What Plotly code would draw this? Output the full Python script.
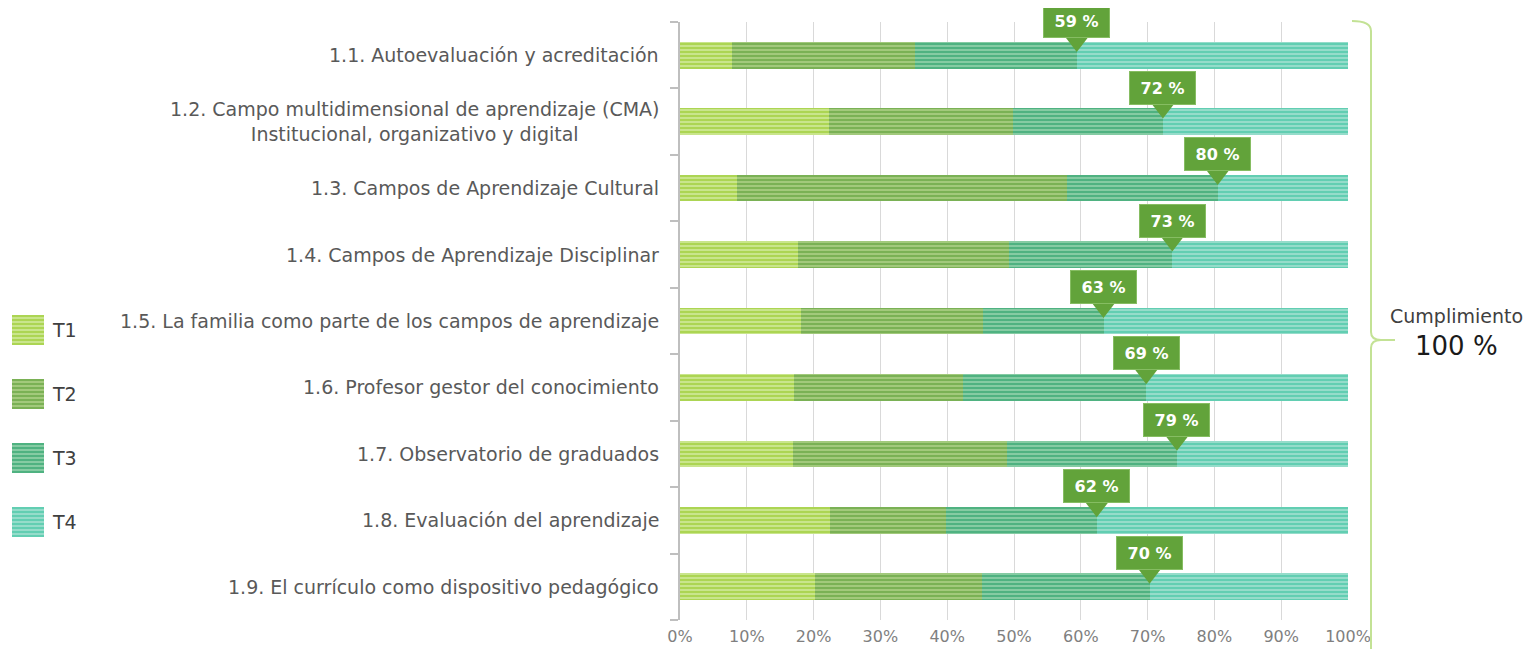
import plotly.graph_objects as go

# ---------------- data ----------------
categories = [
    "1.1. Autoevaluación y acreditación",
    "1.2. Campo multidimensional de aprendizaje (CMA)<br>Institucional, organizativo y digital",
    "1.3. Campos de Aprendizaje Cultural",
    "1.4. Campos de Aprendizaje Disciplinar",
    "1.5. La familia como parte de los campos de aprendizaje",
    "1.6. Profesor gestor del conocimiento",
    "1.7. Observatorio de graduados",
    "1.8. Evaluación del aprendizaje",
    "1.9. El currículo como dispositivo pedagógico",
]
series_names = ["T1", "T2", "T3", "T4"]
t1 = [7.8, 22.3, 8.6, 17.7, 18.1, 17.1, 16.9, 22.4, 20.2]
t2 = [27.4, 27.6, 49.3, 31.6, 27.2, 25.3, 32.0, 17.4, 25.0]
t3 = [24.2, 22.4, 22.6, 24.4, 18.1, 27.4, 25.5, 22.6, 25.1]
t4 = [40.6, 27.7, 19.5, 26.3, 36.6, 30.2, 25.6, 37.6, 29.7]
cumplimiento_labels = [59, 72, 80, 73, 63, 69, 79, 62, 70]
x_ticks = [0, 10, 20, 30, 40, 50, 60, 70, 80, 90, 100]
x_tick_labels = [f"{v}%" for v in x_ticks]
total_label = "100 %"
total_title = "Cumplimiento"

# ---------------- style ----------------
PAGE_W, PAGE_H = 1532, 657
OFF = 8                      # default body margin of the html page
W, H = PAGE_W - 2 * OFF, PAGE_H - 2 * OFF
FONT = "DejaVu Sans"
bg_cols = ["#c9e58c", "#a2c97c", "#85cba3", "#95dcca"]
fg_cols = ["#9fcf3a", "#68a744", "#38a873", "#4cc9a8"]
callout_col = "#62a33a"
PL, PR, PT, PB = 680, 1348, 22, 620  # plot area in page pixels


def px_x(p):
    return (p - OFF) / W


def px_y(p):
    return (H - (p - OFF)) / H


fig = go.Figure()
series = [t1, t2, t3, t4]
ypos = list(range(len(categories)))

for name, vals, bgc, fgc in zip(series_names, series, bg_cols, fg_cols):
    fig.add_trace(go.Bar(
        name=name, x=vals, y=ypos, orientation="h", width=0.4,
        marker=dict(color=bgc, line=dict(width=0),
                    pattern=dict(shape="-", fgcolor=fgc, bgcolor=bgc,
                                 size=4, solidity=0.35)),
        showlegend=False, hoverinfo="x+name",
        xaxis="x", yaxis="y",
    ))

# cumulative position of callouts (end of T3)
cum3 = [a + b + c for a, b, c in zip(t1, t2, t3)]
fig.add_trace(go.Scatter(
    x=cum3, y=[y - 0.19 for y in ypos], mode="markers",
    marker=dict(symbol="triangle-down", size=19, color=callout_col,
                line=dict(width=0)),
    showlegend=False, hoverinfo="skip", cliponaxis=False,
    xaxis="x", yaxis="y",
))

annotations = []
for y, xv, lab in zip(ypos, cum3, cumplimiento_labels):
    annotations.append(dict(
        x=xv, y=y, xref="x", yref="y", yshift=34, showarrow=False,
        xanchor="center",
        text=f"<b>{lab} %</b>", font=dict(family=FONT, size=16, color="white"),
        bgcolor=callout_col, bordercolor="#86bd62", borderwidth=1,
        width=61, height=28, borderpad=2,
    ))

for y, cat in zip(ypos, categories):
    annotations.append(dict(
        x=px_x(PL), y=y, xref="paper", yref="y", xshift=-19,
        xanchor="right", yanchor="middle", align="center", showarrow=False,
        text=cat, font=dict(family=FONT, size=19, color="#595959"),
    ))

annotations.append(dict(
    x=px_x(1456), y=px_y(316), xref="paper", yref="paper", showarrow=False,
    xanchor="center", yanchor="middle",
    text=total_title, font=dict(family=FONT, size=19, color="#404040"),
))
annotations.append(dict(
    x=px_x(1456), y=px_y(346), xref="paper", yref="paper", showarrow=False,
    xanchor="center", yanchor="middle",
    text=total_label, font=dict(family=FONT, size=26, color="#1a1a1a"),
))

# legend swatches drawn in their own small subplot
legend_len = [1] * len(series_names)
leg_pos = list(range(len(series_names)))
for k, (name, bgc, fgc) in enumerate(zip(series_names, bg_cols, fg_cols)):
    fig.add_trace(go.Bar(
        x=[legend_len[k]], y=[leg_pos[k]], orientation="h", width=0.47,
        marker=dict(color=bgc, line=dict(width=0),
                    pattern=dict(shape="-", fgcolor=fgc, bgcolor=bgc,
                                 size=4, solidity=0.35)),
        showlegend=False, hoverinfo="skip", xaxis="x2", yaxis="y2",
    ))

# bracket
def P(x, y):
    return f"{px_x(x):.5f},{px_y(y):.5f}"

bracket = (f"M{P(1352,21)} Q{P(1371,21)} {P(1371,31)} L{P(1371,332)} "
           f"Q{P(1371,340)} {P(1381,340)} L{P(1395,340)} "
           f"M{P(1381,340)} Q{P(1371,340)} {P(1371,348)} L{P(1371,660)}")
shapes = [dict(type="path", xref="paper", yref="paper", path=bracket,
               line=dict(color="#c3e295", width=2))]

fig.update_layout(
    template="none",
    width=W, height=H,
    margin=dict(l=0, r=0, t=0, b=0, pad=0, autoexpand=False),
    paper_bgcolor="white", plot_bgcolor="white",
    barmode="stack", bargap=0.6, showlegend=False,
    font=dict(family=FONT),
    xaxis=dict(domain=[px_x(PL), px_x(PR)], range=[0, 100],
               tickvals=x_ticks, ticktext=x_tick_labels,
               tickfont=dict(family=FONT, size=16, color="#7f7f7f"),
               showgrid=True, gridcolor="#d9d9d9", gridwidth=1,
               zeroline=False, showline=False, ticks="", anchor="y",
               ticklabelstandoff=5, automargin=False),
    yaxis=dict(domain=[px_y(PB), px_y(PT)], range=[8.5, -0.5],
               tickmode="array", tickvals=[v - 0.5 for v in range(10)],
               ticktext=[""] * 10, ticks="outside", ticklen=8,
               tickcolor="#bfbfbf", tickwidth=1.5,
               showline=True, linecolor="#bfbfbf", linewidth=1.5,
               showgrid=False, zeroline=False, anchor="x", automargin=False),
    xaxis2=dict(domain=[px_x(12), px_x(44)], range=[0, 1], visible=False,
                anchor="y2", automargin=False),
    yaxis2=dict(domain=[px_y(554), px_y(298)], range=[3.5, -0.5],
                tickvals=leg_pos, ticktext=series_names, side="right",
                tickfont=dict(family=FONT, size=19, color="#404040"),
                showgrid=False, zeroline=False, showline=False, ticks="",
                anchor="x2", ticklabelstandoff=8, automargin=False),
    annotations=annotations,
    shapes=shapes,
)

fig.write_html("out.html")
